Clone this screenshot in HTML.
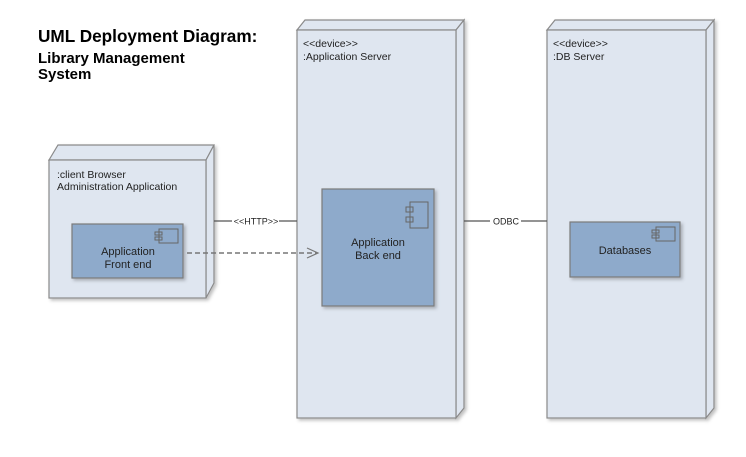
<!DOCTYPE html>
<html><head><style>body{margin:0;background:#fff}</style></head><body>
<svg width="746" height="452" viewBox="0 0 746 452" xmlns="http://www.w3.org/2000/svg" font-family="Liberation Sans, sans-serif">
<defs>
<filter id="s" x="-10%" y="-10%" width="130%" height="130%"><feDropShadow dx="2" dy="2" stdDeviation="1.5" flood-color="#000" flood-opacity="0.25"/></filter>
</defs>
<text x="38" y="42" font-size="17.2" font-weight="bold">UML Deployment Diagram:</text>
<text x="38" y="63" font-size="15" font-weight="bold">Library Management</text>
<text x="38" y="79" font-size="15" font-weight="bold">System</text>

<g stroke="#8a8a8a" stroke-width="1.2" fill="#dfe6f0">
<g filter="url(#s)">
<polygon points="49,160 58,145 214,145 206,160"/>
<polygon points="206,160 214,145 214,283 206,298"/>
<rect x="49" y="160" width="157" height="138"/>
</g>
<g filter="url(#s)">
<polygon points="297,30 305,20 464,20 456,30"/>
<polygon points="456,30 464,20 464,408 456,418"/>
<rect x="297" y="30" width="159" height="388"/>
</g>
<g filter="url(#s)">
<polygon points="547,30 555,20 714,20 706,30"/>
<polygon points="706,30 714,20 714,408 706,418"/>
<rect x="547" y="30" width="159" height="388"/>
</g>
</g>

<g font-size="10.5" fill="#222">
<text x="57" y="178">:client Browser</text>
<text x="57" y="190">Administration Application</text>
<text x="303" y="47">&lt;&lt;device&gt;&gt;</text>
<text x="303" y="60">:Application Server</text>
<text x="553" y="47">&lt;&lt;device&gt;&gt;</text>
<text x="553" y="60">:DB Server</text>
</g>

<g fill="#8eaacb" stroke="#7a7a7a" stroke-width="1.2" filter="url(#s)">
<rect x="72" y="224" width="111" height="54"/>
<rect x="322" y="189" width="112" height="117"/>
<rect x="570" y="222" width="110" height="55"/>
</g>
<g fill="none" stroke="#666" stroke-width="1">
<rect x="159" y="229" width="19" height="14"/><rect x="155" y="232" width="7" height="3"/><rect x="155" y="237" width="7" height="3"/>
<rect x="410" y="202" width="18" height="26"/><rect x="406" y="207" width="7" height="5"/><rect x="406" y="217" width="7" height="5"/>
<rect x="656" y="227" width="19" height="14"/><rect x="652" y="230" width="7" height="3"/><rect x="652" y="235" width="7" height="3"/>
</g>
<g font-size="11" fill="#222" text-anchor="middle">
<text x="128" y="255">Application</text>
<text x="128" y="268">Front end</text>
<text x="378" y="246">Application</text>
<text x="378" y="259">Back end</text>
<text x="625" y="254">Databases</text>
</g>

<g stroke="#555" stroke-width="1.2">
<line x1="214" y1="221" x2="232" y2="221"/>
<line x1="279" y1="221" x2="297" y2="221"/>
<line x1="464" y1="221" x2="490" y2="221"/>
<line x1="521" y1="221" x2="547" y2="221"/>
</g>
<text x="256" y="224.5" font-size="9" text-anchor="middle" fill="#222">&lt;&lt;HTTP&gt;&gt;</text>
<text x="506" y="224.5" font-size="9" text-anchor="middle" fill="#222">ODBC</text>
<line x1="187" y1="253" x2="317" y2="253" stroke="#777" stroke-width="1.5" stroke-dasharray="5,3"/>
<polyline points="307,248 318,253 307,258" fill="none" stroke="#777" stroke-width="1.2"/>
</svg>
</body></html>
